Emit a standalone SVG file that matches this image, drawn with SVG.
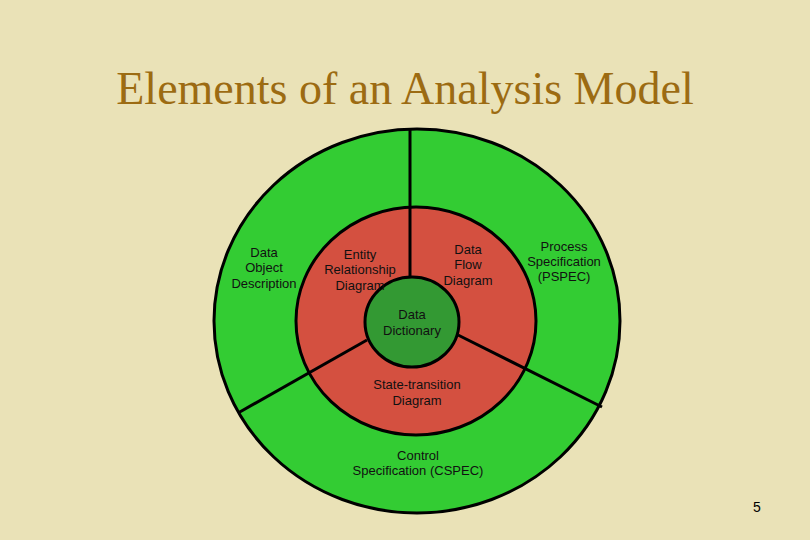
<svg xmlns="http://www.w3.org/2000/svg" width="810" height="540" viewBox="0 0 810 540">
<style>
.l{font-family:"Liberation Sans",Arial,sans-serif;font-size:13px;fill:#111;text-anchor:middle}
.s{stroke:#000;stroke-width:3}
</style>
<rect width="810" height="540" fill="#eae2b7"/>
<text x="405" y="104" font-family="Liberation Serif,serif" font-size="46" fill="#9c6b12" text-anchor="middle">Elements of an Analysis Model</text>
<g id="outer"><ellipse cx="417" cy="321" rx="203" ry="192" fill="#33cc33" class="s"/></g>
<g id="inner"><ellipse cx="416" cy="321" rx="120" ry="114" fill="#d45040" class="s"/></g>
<g id="connectors" class="s">
<line x1="410" y1="129" x2="410" y2="278"/>
<line x1="367" y1="340" x2="238" y2="413"/>
<line x1="458" y1="335" x2="602" y2="407"/>
</g>
<g id="core"><ellipse cx="412" cy="322" rx="47" ry="45" fill="#339933" class="s"/></g>
<g id="labels" class="l">
<text x="264" y="257">Data</text><text x="264" y="272">Object</text><text x="264" y="288">Description</text>
<text x="360" y="259">Entity</text><text x="360" y="274">Relationship</text><text x="360" y="290">Diagram</text>
<text x="468" y="254">Data</text><text x="468" y="269">Flow</text><text x="468" y="285">Diagram</text>
<text x="564" y="251">Process</text><text x="564" y="266">Specification</text><text x="564" y="281">(PSPEC)</text>
<text x="412" y="319">Data</text><text x="412" y="335">Dictionary</text>
<text x="417" y="389">State-transition</text><text x="417" y="405">Diagram</text>
<text x="418" y="460">Control</text><text x="418" y="475">Specification (CSPEC)</text>
</g>
<text x="757" y="512" font-family="Liberation Sans,sans-serif" font-size="14" fill="#000" text-anchor="middle">5</text>
</svg>
